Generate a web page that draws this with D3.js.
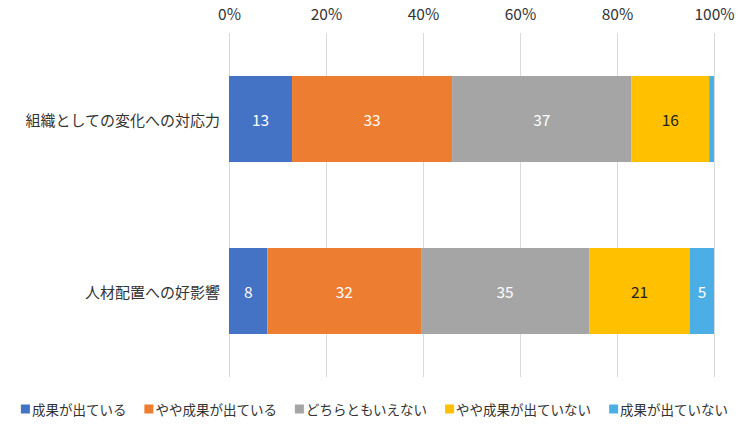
<!DOCTYPE html>
<html><head><meta charset="utf-8">
<script src="https://cdn.jsdelivr.net/npm/d3@7"></script>
<style>body{margin:0;background:#fff}svg{display:block}text{font-family:"Noto Sans CJK JP","Noto Sans",sans-serif}</style>
</head><body>
<svg id="c" width="749" height="438"></svg>
<script>
const categories = ["組織としての変化への対応力", "人材配置への好影響"];
const seriesNames = ["成果が出ている", "やや成果が出ている", "どちらともいえない", "やや成果が出ていない", "成果が出ていない"];
const seriesColors = ["#4472C4", "#ED7D31", "#A5A5A5", "#FFC000", "#4BAFE6"];
const labelColors = ["#fff", "#fff", "#fff", "#222", "#fff"];
const values = [
  [13, 33, 37, 16, 1],
  [8, 32, 35, 21, 5]
];
const showLabel = [
  [true, true, true, true, false],
  [true, true, true, true, true]
];
const tickValues = [0, 0.2, 0.4, 0.6, 0.8, 1.0];

const svg = d3.select("#c");
const margin = {left: 229, right: 35, top: 33, bottom: 61};
const W = 749, H = 438;
const x = d3.scaleLinear().domain([0, 1]).range([margin.left, W - margin.right]);
const y = d3.scaleBand().domain(categories).range([margin.top, H - margin.bottom]).paddingInner(0.5).paddingOuter(0.25);

// gridlines
svg.append("g").selectAll("line").data(tickValues).join("line")
  .attr("x1", d => x(d)).attr("x2", d => x(d))
  .attr("y1", margin.top).attr("y2", H - margin.bottom)
  .attr("stroke", "#d9d9d9").attr("stroke-width", 1).attr("shape-rendering", "crispEdges");

// top axis labels
const axis = d3.axisTop(x).tickValues(tickValues).tickFormat(d3.format(".0%")).tickSize(0).tickPadding(0);
const ag = svg.append("g").attr("transform", "translate(0,20)").call(axis);
ag.select(".domain").remove();
ag.selectAll("text").attr("font-size", 15.5).attr("fill", "#333").attr("dy", 0)
  .style("font-family", '"Noto Sans CJK JP","Noto Sans",sans-serif');

// stacked data (normalized 100%)
const rows = categories.map((c, i) => {
  const tot = d3.sum(values[i]);
  let acc = 0;
  return values[i].map((v, j) => {
    const s = {cat: c, j, v, x0: acc / tot, x1: (acc + v) / tot, show: showLabel[i][j]};
    acc += v;
    return s;
  });
}).flat();

svg.append("g").selectAll("rect").data(rows).join("rect")
  .attr("x", d => x(d.x0)).attr("width", d => x(d.x1) - x(d.x0))
  .attr("y", d => y(d.cat)).attr("height", y.bandwidth())
  .attr("fill", d => seriesColors[d.j]);

svg.append("g").selectAll("text").data(rows.filter(d => d.show)).join("text")
  .attr("x", d => (x(d.x0) + x(d.x1)) / 2)
  .attr("y", d => y(d.cat) + y.bandwidth() / 2)
  .attr("text-anchor", "middle").attr("dominant-baseline", "central")
  .attr("font-size", 15.5).attr("fill", d => labelColors[d.j])
  .text(d => d.v);

// category labels
svg.append("g").selectAll("text").data(categories).join("text")
  .attr("x", margin.left - 9).attr("y", d => y(d) + y.bandwidth() / 2)
  .attr("text-anchor", "end").attr("dominant-baseline", "central")
  .attr("font-size", 15).attr("fill", "#333")
  .text(d => d);

// legend
const lg = svg.append("g");
const items = lg.selectAll("g").data(seriesNames).join("g");
items.append("rect").attr("width", 9).attr("height", 9).attr("y", -4.5).attr("fill", (d, i) => seriesColors[i]);
items.append("text").attr("x", 11).attr("dominant-baseline", "central").attr("font-size", 13.5).attr("fill", "#333").text(d => d);
const gap = 18;
const widths = [];
items.each(function () { widths.push(11 + this.querySelector("text").getComputedTextLength()); });
const total = d3.sum(widths) + gap * (widths.length - 1);
let lx = (W - total) / 2;
items.attr("transform", (d, i) => { const t = `translate(${lx},409)`; lx += widths[i] + gap; return t; });
</script>
</body></html>
